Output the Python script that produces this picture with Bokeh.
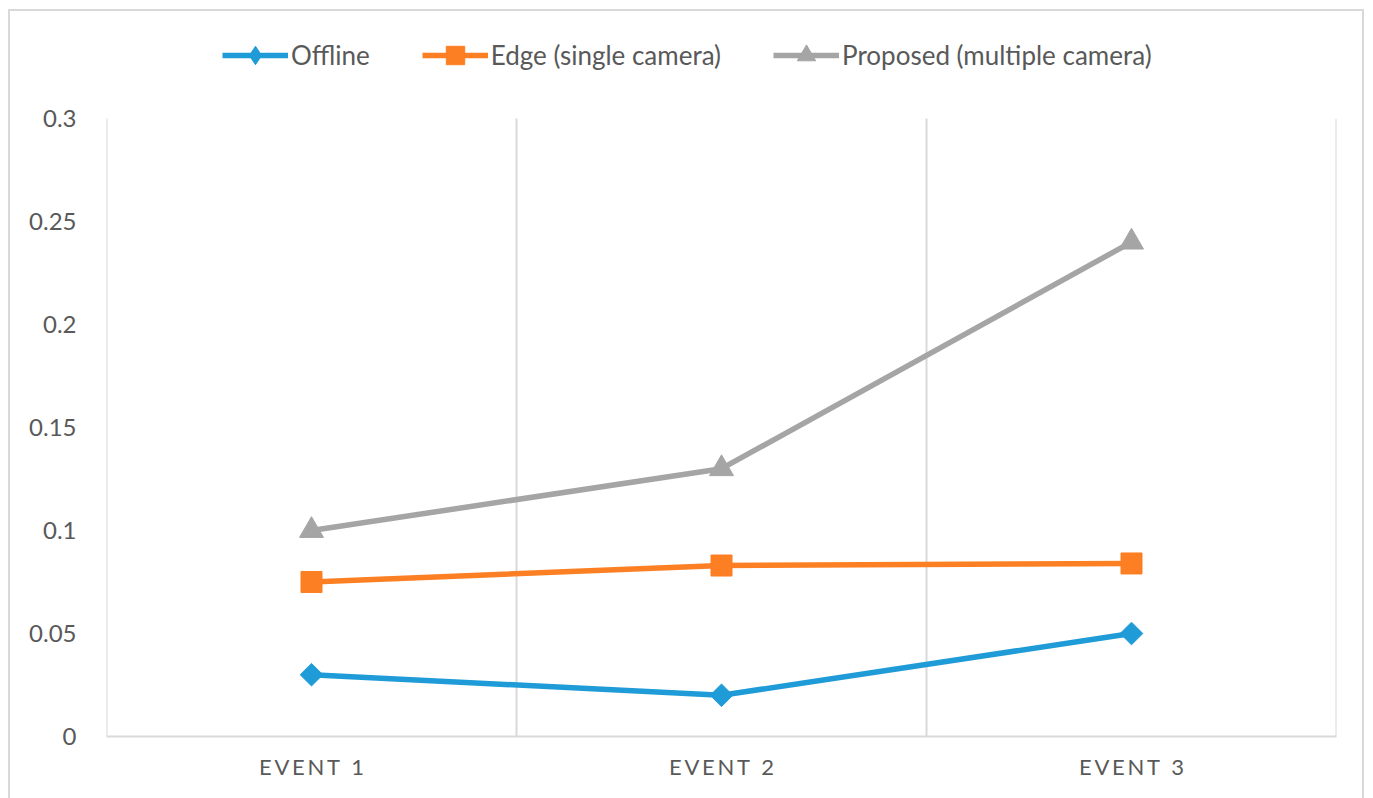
from bokeh.plotting import figure
from bokeh.models import FixedTicker, Legend, LegendItem, Range1d
from bokeh.embed import file_html
from bokeh.resources import INLINE
import math

# --- data -----------------------------------------------------------------
categories = ["EVENT 1", "EVENT 2", "EVENT 3"]
offline = [0.03, 0.02, 0.05]
edge_single = [0.075, 0.083, 0.084]
proposed_multi = [0.10, 0.13, 0.24]
series_names = ["Offline", "Edge (single camera)", "Proposed (multiple camera)"]
y_ticks = [0, 0.05, 0.1, 0.15, 0.2, 0.25, 0.3]
y_tick_labels = ["0", "0.05", "0.1", "0.15", "0.2", "0.25", "0.3"]

# --- style ----------------------------------------------------------------
BLUE = "#1f9bd7"
ORANGE = "#fd7f23"
GREY = "#a5a5a5"
TEXT = "#595959"
RULE = "#d9d9d9"
FONT = "Lato"

# the frame reaches up into the legend band; the value axis itself stops at
# the last tick, so the range top is stretched to keep 0..0.3 on 618 px
AXIS_PX = 618
FRAME_PX = 706
y_top = y_ticks[-1] * FRAME_PX / AXIS_PX

# category slots are one unit wide; points sit in the middle of each slot
xs = [i + 0.5 for i in range(len(categories))]
edges = list(range(len(categories) + 1))

p = figure(
    width=1356, height=789,
    x_range=Range1d(0, len(categories)),
    y_range=Range1d(0, y_top),
    output_backend="svg", toolbar_location=None,
    min_border_left=96, min_border_right=30,
    min_border_top=19, min_border_bottom=64,
)
p.styles = {"border": "2px solid " + RULE, "border-bottom": "none",
            "margin-left": "8px", "margin-top": "9px"}
p.outline_line_color = None
p.background_fill_color = "white"
p.border_fill_color = "white"

# x axis: labels at slot centres
p.xaxis.ticker = FixedTicker(ticks=xs)
p.xaxis.major_label_overrides = {x: "\u2009".join(c) for x, c in zip(xs, categories)}
p.xaxis.major_tick_line_color = None
p.xaxis.minor_tick_line_color = None
p.xaxis.axis_line_color = RULE
p.xaxis.axis_line_width = 2
p.xaxis.major_label_text_font = FONT
p.xaxis.major_label_text_font_size = "22px"
p.xaxis.major_label_text_color = TEXT
p.xaxis.major_label_standoff = 10
p.xgrid.grid_line_color = None

p.yaxis.ticker = FixedTicker(ticks=y_ticks)
p.yaxis.major_label_overrides = dict(zip(y_ticks, y_tick_labels))
p.yaxis.axis_line_color = None
p.yaxis.major_tick_line_color = None
p.yaxis.minor_tick_line_color = None
p.yaxis.major_label_text_font = FONT
p.yaxis.major_label_text_font_size = "24px"
p.yaxis.major_label_text_color = TEXT
p.yaxis.major_label_standoff = 24
p.ygrid.grid_line_color = None

# vertical rules at the slot edges, from 0 up to the top tick
p.segment(x0=edges, y0=[y_ticks[0]] * len(edges), x1=edges, y1=[y_ticks[-1]] * len(edges),
          line_color=RULE, line_width=2)

LW = 5.5
r1l = p.line(xs, offline, line_color=BLUE, line_width=LW)
# narrow diamond (used by the legend swatch), covered by the wider rotated square
r1d = p.scatter(xs, offline, marker="diamond", size=20,
                fill_color=BLUE, line_color=BLUE)
r1m = p.scatter(xs, offline, marker="square", angle=math.pi / 4, size=16,
                fill_color=BLUE, line_color=BLUE)
r2l = p.line(xs, edge_single, line_color=ORANGE, line_width=LW)
r2m = p.scatter(xs, edge_single, marker="square", size=21,
                fill_color=ORANGE, line_color=ORANGE)
r3l = p.line(xs, proposed_multi, line_color=GREY, line_width=LW)
r3m = p.scatter(xs, proposed_multi, marker="triangle", size=24,
                fill_color=GREY, line_color=GREY)

legend = Legend(
    items=[LegendItem(label=series_names[0], renderers=[r1l, r1d]),
           LegendItem(label=series_names[1], renderers=[r2l, r2m]),
           LegendItem(label=series_names[2], renderers=[r3l, r3m])],
    orientation="horizontal",
    location=(116, 658),
    glyph_width=66, glyph_height=46, label_standoff=3, spacing=52,
    padding=0, margin=0,
    border_line_color=None, background_fill_alpha=0,
    label_text_font=FONT, label_text_font_size="26px", label_text_color=TEXT,
)
p.add_layout(legend, "center")

open("out.html", "w").write(file_html(p, INLINE))
